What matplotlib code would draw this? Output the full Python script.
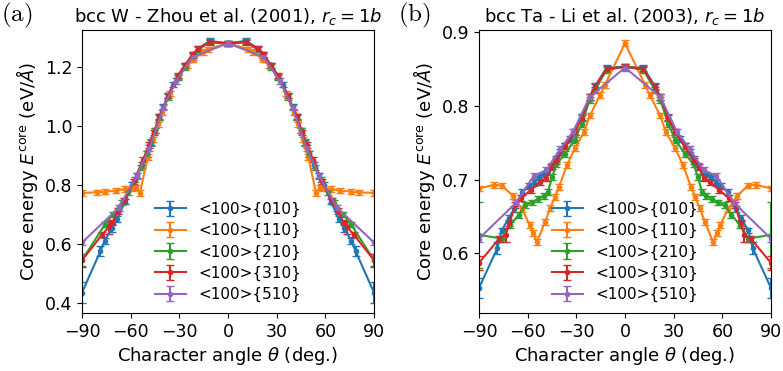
import numpy as np
import matplotlib
matplotlib.use("Agg")
import matplotlib.pyplot as plt

# ---- angles (deg) for each slip orientation ----
ang_010 = [-90, -78.7, -76.0, -71.6, -68.2, -63.4, -59.0, -56.3, -53.1, -50.2, -47.7, -45.0, -42.3, -39.8,
           -36.9, -33.7, -31.0, -26.6, -21.8, -18.4, -11.3, 0, 11.3, 18.4, 21.8, 26.6, 31.0, 33.7, 36.9, 39.8,
           42.3, 45.0, 47.7, 50.2, 53.1, 56.3, 59.0, 63.4, 68.2, 71.6, 76.0, 78.7, 90]
ang_110 = [-90, -80.5, -76.0, -69.0, -63.5, -58.6, -56.7, -54.3, -49.4, -46.1, -43.3, -40.7, -35.7, -30.8,
           -25.3, -21.6, -15.3, -12.5, 0, 12.5, 15.3, 21.6, 25.3, 30.8, 35.7, 40.7, 43.3, 46.1, 49.4, 54.3,
           56.7, 58.6, 63.5, 69.0, 76.0, 80.5, 90]
ang_210 = [-90, -76.0, -71.0, -65.6, -61.7, -57.4, -53.5, -50.2, -47.5, -45.0, -42.3, -36.9, -31.0, -26.6,
           -21.8, -18.4, -11.3, 0, 11.3, 18.4, 21.8, 26.6, 31.0, 36.9, 42.3, 45.0, 47.5, 50.2, 53.5, 57.4,
           61.7, 65.6, 71.0, 76.0, 90]
ang_310 = [-90, -77.5, -73.5, -71.3, -67.8, -64.0, -58.0, -52.4, -48.7, -45.6, -42.3, -36.9, -31.0, -26.6,
           -21.8, -18.4, -11.3, 0, 11.3, 18.4, 21.8, 26.6, 31.0, 36.9, 42.3, 45.6, 48.7, 52.4, 58.0, 64.0,
           67.8, 71.3, 73.5, 77.5, 90]
ang_510 = [-90, -67.4, -56.3, -48.4, -39.8, -32.0, -21.8, 0, 21.8, 32.0, 39.8, 48.4, 56.3, 67.4, 90]

# ---- (a) bcc W - Zhou et al. (2001) ----
w_010 = [0.435, 0.575, 0.610, 0.655, 0.685, 0.745, 0.800, 0.832, 0.868, 0.905, 0.942, 0.985, 1.030, 1.065,
         1.103, 1.140, 1.168, 1.205, 1.240, 1.262, 1.288, 1.280, 1.288, 1.262, 1.240, 1.205, 1.168, 1.140,
         1.103, 1.065, 1.030, 0.985, 0.942, 0.905, 0.868, 0.832, 0.800, 0.745, 0.685, 0.655, 0.610, 0.575, 0.435]
w_110 = [0.773, 0.775, 0.777, 0.781, 0.786, 0.790, 0.792, 0.773, 0.895, 0.955, 1.005, 1.045, 1.110, 1.168,
         1.205, 1.225, 1.250, 1.260, 1.280, 1.260, 1.250, 1.225, 1.205, 1.168, 1.110, 1.045, 1.005, 0.955,
         0.895, 0.773, 0.792, 0.790, 0.786, 0.781, 0.777, 0.775, 0.773]
w_210 = [0.545, 0.665, 0.700, 0.740, 0.775, 0.818, 0.860, 0.905, 0.945, 0.985, 1.028, 1.098, 1.165, 1.200,
         1.238, 1.258, 1.285, 1.280, 1.285, 1.258, 1.238, 1.200, 1.165, 1.098, 1.028, 0.985, 0.945, 0.905,
         0.860, 0.818, 0.775, 0.740, 0.700, 0.665, 0.545]
w_310 = [0.545, 0.632, 0.657, 0.672, 0.712, 0.748, 0.812, 0.885, 0.935, 0.978, 1.033, 1.103, 1.170, 1.205,
         1.243, 1.262, 1.283, 1.280, 1.283, 1.262, 1.243, 1.205, 1.170, 1.103, 1.033, 0.978, 0.935, 0.885,
         0.812, 0.748, 0.712, 0.672, 0.657, 0.632, 0.545]
w_510 = [0.605, 0.722, 0.830, 0.925, 1.062, 1.152, 1.234, 1.280, 1.234, 1.152, 1.062, 0.925, 0.830, 0.722, 0.605]

# ---- (b) bcc Ta - Li et al. (2003) ----
ta_010 = [0.553, 0.607, 0.631, 0.648, 0.660, 0.683, 0.691, 0.696, 0.703, 0.707, 0.712, 0.718, 0.728, 0.738,
          0.746, 0.755, 0.765, 0.785, 0.812, 0.827, 0.852, 0.853, 0.852, 0.827, 0.812, 0.785, 0.765, 0.755,
          0.746, 0.738, 0.728, 0.718, 0.712, 0.707, 0.703, 0.696, 0.691, 0.683, 0.660, 0.648, 0.631, 0.607, 0.553]
ta_110 = [0.688, 0.693, 0.692, 0.678, 0.660, 0.638, 0.628, 0.615, 0.642, 0.661, 0.676, 0.690, 0.720, 0.743,
          0.764, 0.787, 0.815, 0.828, 0.885, 0.828, 0.815, 0.787, 0.764, 0.743, 0.720, 0.690, 0.676, 0.661,
          0.642, 0.615, 0.628, 0.638, 0.660, 0.678, 0.692, 0.693, 0.688]
ta_210 = [0.625, 0.620, 0.638, 0.652, 0.665, 0.669, 0.674, 0.678, 0.683, 0.703, 0.721, 0.735, 0.754, 0.776,
          0.808, 0.822, 0.849, 0.853, 0.849, 0.822, 0.808, 0.776, 0.754, 0.735, 0.721, 0.703, 0.683, 0.678,
          0.674, 0.669, 0.665, 0.652, 0.638, 0.620, 0.625]
ta_310 = [0.587, 0.620, 0.625, 0.641, 0.665, 0.675, 0.686, 0.697, 0.702, 0.717, 0.725, 0.745, 0.765, 0.783,
          0.812, 0.826, 0.850, 0.853, 0.850, 0.826, 0.812, 0.783, 0.765, 0.745, 0.725, 0.717, 0.702, 0.697,
          0.686, 0.675, 0.665, 0.641, 0.625, 0.620, 0.587]
ta_510 = [0.620, 0.668, 0.705, 0.713, 0.742, 0.765, 0.812, 0.852, 0.812, 0.765, 0.742, 0.713, 0.705, 0.668, 0.620]

# error bars: typical value per panel, with larger ones at particular angles
err_w_typ = 0.009
err_ta_typ = 0.004
err_w_big = {"<100>{010}": {90: 0.035, -90: 0.035, 78.7: 0.017, -78.7: 0.017, 71.6: 0.014, -71.6: 0.014},
             "<100>{310}": {73.5: 0.022, -73.5: 0.022, 90: 0.022, -90: 0.022},
             "<100>{210}": {90: 0.02, -90: 0.02}}
err_ta_big = {"<100>{010}": {90: 0.014, -90: 0.014, 78.7: 0.008, -78.7: 0.008},
              "<100>{210}": {90: 0.045, -90: 0.045},
              "<100>{310}": {73.5: 0.01, -73.5: 0.01, 90: 0.01, -90: 0.01}}

labels = ["<100>{010}", "<100>{110}", "<100>{210}", "<100>{310}", "<100>{510}"]
angles = [ang_010, ang_110, ang_210, ang_310, ang_510]
panels = [
    dict(vals=[w_010, w_110, w_210, w_310, w_510], typ=err_w_typ, big=err_w_big,
         title=r"bcc W - Zhou et al. (2001), $r_c = 1b$", ylim=(0.366, 1.325),
         yticks=[0.4, 0.6, 0.8, 1.0, 1.2], tag="(a)"),
    dict(vals=[ta_010, ta_110, ta_210, ta_310, ta_510], typ=err_ta_typ, big=err_ta_big,
         title=r"bcc Ta - Li et al. (2003), $r_c = 1b$", ylim=(0.519, 0.903),
         yticks=[0.6, 0.7, 0.8, 0.9], tag="(b)"),
]
colors = ["#1f77b4", "#ff7f0e", "#2ca02c", "#d62728", "#9467bd"]

fig = plt.figure(figsize=(7.83, 3.71), dpi=100)
lefts = [82 / 783, 479 / 783]
for p, left in zip(panels, lefts):
    ax = fig.add_axes([left, 1 - 313 / 371, 292 / 783, 283 / 371])
    for lab, ang, val, c in zip(labels, angles, p["vals"], colors):
        big = p["big"].get(lab, {})
        yerr = [big.get(a, p["typ"]) for a in ang]
        ax.errorbar(ang, val, yerr=yerr, fmt=".-", color=c, capsize=3, label=lab,
                    markersize=6, linewidth=1.5, elinewidth=1.5)
    ax.set_xlim(-90, 90)
    ax.set_xticks([-90, -60, -30, 0, 30, 60, 90])
    ax.set_ylim(*p["ylim"])
    ax.set_yticks(p["yticks"])
    ax.tick_params(labelsize=12.5)
    ax.set_xlabel(r"Character angle $\theta$ (deg.)", fontsize=13, labelpad=3)
    ax.set_ylabel(r"Core energy $E^{\mathrm{core}}$ (eV/$\AA$)", fontsize=13, labelpad=3)
    ax.set_title(p["title"], fontsize=13, pad=6)
    ax.legend(loc="lower center", frameon=False, fontsize=11, handlelength=2.0,
              labelspacing=0.4, borderaxespad=0.3)
    fig.text(left - 82 / 783 + 1 / 783, 0.998, r"$\mathrm{%s}$" % p["tag"], math_fontfamily="cm",
             fontsize=18, va="top", ha="left")

fig.savefig("out.png", dpi=100)
